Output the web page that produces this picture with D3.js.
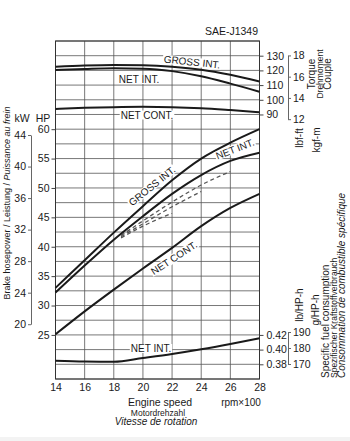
<!DOCTYPE html>
<html><head><meta charset="utf-8">
<script src="https://cdn.jsdelivr.net/npm/d3@7"></script>
<style>
html,body{margin:0;padding:0;background:#fff;}
svg{display:block;font-family:"Liberation Sans",Arial,sans-serif;}
</style></head>
<body><svg id="c" width="350" height="441"></svg>
<script>
// ---- data ----
const rpm = [14, 16, 18, 20, 22, 24, 26, 28];
const torqueGrossInt = [122.5, 123.3, 123.7, 123.5, 122.5, 120.5, 117, 112.5];
const torqueNetInt   = [120.3, 121, 121.5, 121.2, 119.5, 116, 111, 105.5];
const torqueNetCont  = [93.7, 94.5, 95, 95.2, 95, 94.3, 93, 91.5];
const hpGrossInt = [33, 37.7, 42.4, 46.9, 51.3, 55, 57.7, 60];
const hpNetInt   = [32.2, 36.8, 41.2, 45.2, 49, 52.2, 54.6, 56];
const hpNetCont  = [25.1, 29, 32.7, 36.3, 39.8, 43.5, 46.6, 49];
const fuelNetInt = [0.385, 0.3838, 0.3835, 0.3886, 0.394, 0.4004, 0.4076, 0.4154];
const dashA_rpm = [18.5, 20, 22, 24, 26];
const dashA_hp  = [41.9, 44.4, 47.6, 50.5, 52.8];
const dashB_rpm = [18.5, 20, 22, 24];
const dashB_hp  = [41.7, 43.9, 46.8, 49.4];
const dashC_rpm = [18.5, 20, 22];
const dashC_hp  = [41.5, 43.5, 45.7];
const xTicks = [14, 16, 18, 20, 22, 24, 26, 28];
const hpTicks = [25, 30, 35, 40, 45, 50, 55, 60];
const kwTicks = [20, 24, 28, 32, 36, 40, 44];
const torqueTicks = [90, 100, 110, 120, 130];
const kgfTicks = [12, 14, 16, 18];
const fuelTicks = [0.38, 0.40, 0.42];
const gTicks = [170, 180, 190];

// ---- scales ----
const svg = d3.select("#c");
const L = 55.5, R = 259.5, T = 41, B = 379;
const x = d3.scaleLinear([14, 28], [L, R]);
const yHP = d3.scaleLinear([17.5, 75], [B, T]);
const yT = d3.scaleLinear([90, 130], [yHP(62.5), yHP(72.5)]);
const yF = d3.scaleLinear([0.38, 0.42], [yHP(20), yHP(25)]);
const yKW = kw => yHP(kw * 1.341);
const yKG = k => yT(k * 7.233);
const yG = d3.scaleLinear([170, 190], [364, 332]);
const INK = "#1a1a1a";
const FONT = 10;

// ---- grid ----
const grid = svg.append("g").attr("stroke", "#555").attr("stroke-width", 0.8);
grid.selectAll("line.h").data(d3.range(17.5, 75.01, 2.5)).join("line")
  .attr("x1", L).attr("x2", R).attr("y1", d => yHP(d)).attr("y2", d => yHP(d));
grid.selectAll("line.v").data(xTicks).join("line")
  .attr("x1", d => x(d)).attr("x2", d => x(d)).attr("y1", T).attr("y2", B);
svg.append("rect").attr("x", L).attr("y", T).attr("width", R - L).attr("height", B - T)
  .attr("fill", "none").attr("stroke", "#333").attr("stroke-width", 1);

function style(g, domainColor) {
  if (domainColor) g.select(".domain").attr("stroke", domainColor);
  else g.select(".domain").remove();
  g.selectAll("text").attr("font-size", 10.5).attr("fill", INK).attr("font-family", null);
  g.selectAll("line").attr("stroke", domainColor || "#444");
}
// ---- axes ----
style(svg.append("g").attr("transform", `translate(0,${B})`)
  .call(d3.axisBottom(x).tickValues(xTicks).tickSize(0).tickPadding(5)));
style(svg.append("g").attr("transform", `translate(${L},0)`)
  .call(d3.axisLeft(yHP).tickValues(hpTicks).tickSize(4).tickPadding(2)));
style(svg.append("g").attr("transform", "translate(31,0)")
  .call(d3.axisLeft(d3.scaleLinear([20, 44], [yKW(20), yKW(44)])).tickValues(kwTicks)
    .tickSize(3).tickPadding(2).tickSizeOuter(0)), "#666");
style(svg.append("g").attr("transform", `translate(${R},0)`)
  .call(d3.axisRight(yT).tickValues(torqueTicks).tickSize(4).tickPadding(3)));
style(svg.append("g").attr("transform", "translate(288,0)")
  .call(d3.axisRight(d3.scaleLinear([12, 18], [yKG(12), yKG(18)])).tickValues(kgfTicks)
    .tickFormat(d3.format("d")).tickSize(3).tickPadding(2).tickSizeOuter(0)), "#666");
style(svg.append("g").attr("transform", `translate(${R},0)`)
  .call(d3.axisRight(yF).tickValues(fuelTicks).tickFormat(d3.format(".2f")).tickSize(4).tickPadding(3)));
style(svg.append("g").attr("transform", "translate(288,0)")
  .call(d3.axisRight(yG).tickValues(gTicks).tickSize(3).tickPadding(2).tickSizeOuter(0)), "#666");

// ---- curves ----
function curve(xs, ys, yScale, dashed) {
  const pts = xs.map((v, i) => [x(v), yScale(ys[i])]);
  svg.append("path").attr("d", d3.line().curve(d3.curveMonotoneX)(pts))
    .attr("fill", "none").attr("stroke", dashed ? "#555" : INK)
    .attr("stroke-width", dashed ? 1.3 : 2)
    .attr("stroke-dasharray", dashed ? "4,3" : null);
}
curve(rpm, torqueGrossInt, yT);
curve(rpm, torqueNetInt, yT);
curve(rpm, torqueNetCont, yT);
curve(dashA_rpm, dashA_hp, yHP, true);
curve(dashB_rpm, dashB_hp, yHP, true);
curve(dashC_rpm, dashC_hp, yHP, true);
curve(rpm, hpGrossInt, yHP);
curve(rpm, hpNetInt, yHP);
curve(rpm, hpNetCont, yHP);
curve(rpm, fuelNetInt, yF);

// ---- curve labels ----
function label(txt, cx, cy, ang, size) {
  const g = svg.append("g").attr("transform", `translate(${cx},${cy}) rotate(${ang || 0})`);
  const t = g.append("text").attr("text-anchor", "middle").attr("dy", "0.35em")
    .attr("font-size", size || FONT).attr("fill", INK).text(txt);
  const bb = t.node().getBBox();
  g.insert("rect", "text").attr("x", bb.x - 1).attr("y", bb.y + 1).attr("width", bb.width + 2)
    .attr("height", bb.height - 2).attr("fill", "#fff");
}
label("GROSS INT.", 192, 62, 6);
label("NET INT.", 139, 79.5, 0);
label("NET CONT.", 147, 115, 0);
label("GROSS INT.", 152, 186, -39);
label("NET INT.", 235, 149, -21);
label("NET CONT.", 174, 258, -33);
label("NET INT.", 151, 348.5, 0);

// ---- texts ----
function txt(s, xx, yy, opts) {
  opts = opts || {};
  const t = svg.append("text").attr("x", xx).attr("y", yy)
    .attr("font-size", opts.size || 10).attr("fill", INK)
    .attr("text-anchor", opts.anchor || "start")
    .attr("font-style", opts.italic ? "italic" : null)
    .text(s);
  if (opts.rot) t.attr("transform", `rotate(-90,${xx},${yy})`);
  return t;
}
txt("SAE-J1349", 258, 35, {anchor: "end", size: 10.5});
txt("kW", 22, 122, {anchor: "middle", size: 10.5});
txt("HP", 43, 122, {anchor: "middle", size: 10.5});
const yl = svg.append("text").attr("transform", "translate(10,203) rotate(-90)")
  .attr("text-anchor", "middle").attr("font-size", 9).attr("fill", INK);
yl.append("tspan").text("Brake hosepower / Leistung / ");
yl.append("tspan").attr("font-style", "italic").text("Puissance au frein");
txt("Engine speed", 160, 406, {anchor: "middle", size: 10.5});
txt("Motordrehzahl", 158, 415.5, {anchor: "middle", size: 8.5});
txt("Vitesse de rotation", 156, 425, {anchor: "middle", size: 10, italic: true});
txt("rpm\u00d7100", 241, 406, {anchor: "middle", size: 10});
txt("Torque", 315, 74, {anchor: "middle", size: 10, rot: true});
txt("Drehmoment", 322.5, 74, {anchor: "middle", size: 8.5, rot: true});
txt("Couple", 330.5, 74, {anchor: "middle", size: 10, rot: true});
txt("lbf-ft", 303, 138, {anchor: "middle", size: 10, rot: true});
txt("kgf-m", 320, 140, {anchor: "middle", size: 10, rot: true});
txt("lb/HP-h", 303, 305, {anchor: "middle", size: 10, rot: true});
txt("g/HP-h", 318.5, 310, {anchor: "middle", size: 10, rot: true});
txt("Specific fuel consumption", 328.5, 378, {size: 10, rot: true});
txt("Spezifischer Kraftstoffverbrauch", 336.5, 378, {size: 8.5, rot: true});
txt("Consommation de combustible sp\u00e9cifique", 345, 378, {size: 10, italic: true, rot: true});
svg.append("rect").attr("x", 0).attr("y", 437).attr("width", 350).attr("height", 4).attr("fill", "#f3f3f3");
</script></body></html>
